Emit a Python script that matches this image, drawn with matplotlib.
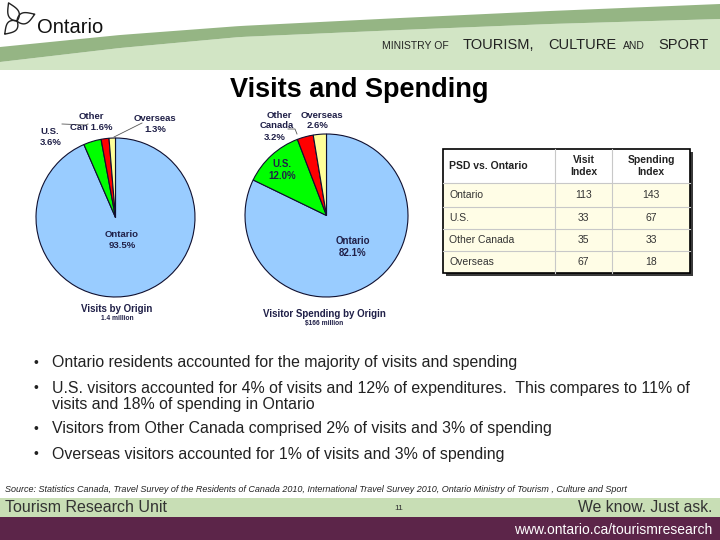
import matplotlib
matplotlib.use("Agg")
import matplotlib.pyplot as plt
from matplotlib.patches import Rectangle, Polygon
import numpy as np

plt.rcParams['font.family'] = ['Liberation Sans', 'DejaVu Sans']

# --- data ---
origins = ['Ontario', 'U.S.', 'Other Canada', 'Overseas']
visit_share = [93.5, 3.6, 1.6, 1.3]
spend_share = [82.1, 12.0, 3.2, 2.6]
pie_colors = ['#99CCFF', '#00FF00', '#FF0000', '#FFFF99']

table_header = ['PSD vs. Ontario', 'Visit\nIndex', 'Spending\nIndex']
table_rows = ['Ontario', 'U.S.', 'Other Canada', 'Overseas']
visit_index = [113, 33, 35, 67]
spend_index = [143, 67, 33, 18]

bullets = [
    'Ontario residents accounted for the majority of visits and spending',
    'U.S. visitors accounted for 4% of visits and 12% of expenditures.  This compares to 11% of\nvisits and 18% of spending in Ontario',
    'Visitors from Other Canada comprised 2% of visits and 3% of spending',
    'Overseas visitors accounted for 1% of visits and 3% of spending',
]
source = ('Source: Statistics Canada, Travel Survey of the Residents of Canada 2010, '
          'International Travel Survey 2010, Ontario Ministry of Tourism , Culture and Sport')

W, H = 720, 540
fig = plt.figure(figsize=(7.2, 5.4), dpi=100)
fig.patch.set_facecolor('white')

# pixel-coordinate background axes
bg = fig.add_axes([0, 0, 1, 1], zorder=0)
bg.set_xlim(0, W)
bg.set_ylim(H, 0)
bg.axis('off')

# header swoosh
xs = np.linspace(0, W, 80)
y_top = np.interp(xs, [0, 120, 240, 400, 550, 720], [47, 35, 26, 18, 11, 4])
y_bot = np.interp(xs, [0, 120, 240, 400, 550, 720], [62, 48, 37, 30, 24, 19])
light = np.vstack([np.c_[xs, y_bot], [[W, 70], [0, 70]]])
bg.add_patch(Polygon(light, closed=True, facecolor='#D2E5C5', edgecolor='none'))
band = np.vstack([np.c_[xs, y_top], np.c_[xs[::-1], y_bot[::-1]]])
bg.add_patch(Polygon(band, closed=True, facecolor='#95B584', edgecolor='none'))

# trillium outline
cx0, cy0 = 17, 21
for ang, L in [(-115, 20), (-21, 19), (133, 18)]:
    t = np.linspace(0, 1, 30)
    w = 6 * np.sin(np.pi * t ** 0.8) * (1 - 0.2 * t)
    a = np.deg2rad(ang)
    ux, uy = np.cos(a), np.sin(a)
    px, py = -uy, ux
    sx = np.r_[cx0 + ux * L * t + px * w, (cx0 + ux * L * t - px * w)[::-1]]
    sy = np.r_[cy0 + uy * L * t + py * w, (cy0 + uy * L * t - py * w)[::-1]]
    bg.plot(sx, sy, color='#222222', lw=1.0)

# footer bands
bg.add_patch(Rectangle((0, 498), W, 19, facecolor='#C8DEB5', edgecolor='none'))
bg.add_patch(Rectangle((0, 517), W, 23, facecolor='#5C2549', edgecolor='none'))

# table
col_x = [443, 555, 612, 690]
row_y = [149, 183, 207, 229, 251, 273]
bg.add_patch(Rectangle((col_x[0] + 3, row_y[0] + 3), col_x[-1] - col_x[0], row_y[-1] - row_y[0],
                       facecolor='#3a3a3a', edgecolor='none'))
bg.add_patch(Rectangle((col_x[0], row_y[0]), col_x[-1] - col_x[0], row_y[1] - row_y[0],
                       facecolor='white', edgecolor='none'))
bg.add_patch(Rectangle((col_x[0], row_y[1]), col_x[-1] - col_x[0], row_y[-1] - row_y[1],
                       facecolor='#FFFDE6', edgecolor='none'))
for yv in row_y[1:-1]:
    bg.plot([col_x[0], col_x[-1]], [yv, yv], color='#C8C8C8', lw=0.8)
for xv in col_x[1:-1]:
    bg.plot([xv, xv], [row_y[0], row_y[-1]], color='#C8C8C8', lw=0.8)
bg.add_patch(Rectangle((col_x[0], row_y[0]), col_x[-1] - col_x[0], row_y[-1] - row_y[0],
                       facecolor='none', edgecolor='black', lw=1.2))


# pies
def add_pie(cx, cy, r, values):
    pad = 1.05
    ax = fig.add_axes([(cx - r * pad) / W, 1 - (cy + r * pad) / H, 2 * r * pad / W, 2 * r * pad / H],
                      zorder=1)
    ax.pie(values, colors=pie_colors, startangle=90, counterclock=False,
           wedgeprops=dict(edgecolor='#101030', linewidth=0.8))
    ax.set_xlim(-pad, pad)
    ax.set_ylim(-pad, pad)
    ax.set_aspect('auto')
    ax.axis('off')
    return ax


add_pie(115.5, 217.5, 79.5, visit_share)
add_pie(326.5, 215.5, 81.5, spend_share)

# text overlay
top = fig.add_axes([0, 0, 1, 1], zorder=3)
top.set_xlim(0, W)
top.set_ylim(H, 0)
top.axis('off')
top.patch.set_alpha(0)

lab = '#202048'
fs_lab = 6.8
# left pie labels
top.plot([62, 86, 88], [124, 125, 124], color='#555555', lw=0.6)
top.plot([142, 114], [123, 137], color='#555555', lw=0.6)
top.text(122, 240, f'{origins[0]}\n{visit_share[0]}%', ha='center', va='center', fontsize=fs_lab,
         fontweight='bold', color=lab, linespacing=1.3)
top.text(40, 137, f'{origins[1]}\n{visit_share[1]}%', ha='left', va='center', fontsize=fs_lab,
         fontweight='bold', color=lab, linespacing=1.3)
top.text(91, 122, f'Other\nCan {visit_share[2]}%', ha='center', va='center', fontsize=fs_lab,
         fontweight='bold', color=lab, linespacing=1.3)
top.text(155, 124, f'{origins[3]}\n{visit_share[3]}%', ha='center', va='center', fontsize=fs_lab,
         fontweight='bold', color=lab, linespacing=1.3)
top.text(117, 309, 'Visits by Origin', ha='center', va='center', fontsize=7,
         fontweight='bold', color=lab)
top.text(117, 318, '1.4 million', ha='center', va='center', fontsize=4.8,
         fontweight='bold', color=lab)

# right pie labels
top.plot([288, 295, 297], [129, 129, 134], color='#555555', lw=0.6)
top.text(279, 115, 'Other', ha='center', va='center', fontsize=fs_lab, fontweight='bold', color=lab)
top.text(322, 115, origins[3], ha='center', va='center', fontsize=fs_lab, fontweight='bold', color=lab)
top.text(277, 126, 'Canada', ha='center', va='center', fontsize=fs_lab, fontweight='bold', color=lab)
top.text(318, 126, f'{spend_share[3]}%', ha='center', va='center', fontsize=fs_lab, fontweight='bold', color=lab)
top.text(275, 137, f'{spend_share[2]}%', ha='center', va='center', fontsize=fs_lab, fontweight='bold', color=lab)
top.text(282, 170, f'{origins[1]}\n{spend_share[1]:.1f}%', ha='center', va='center', fontsize=7,
         fontweight='bold', color=lab, linespacing=1.3)
top.text(353, 247, f'{origins[0]}\n{spend_share[0]}%', ha='center', va='center', fontsize=7,
         fontweight='bold', color=lab, linespacing=1.3)
top.text(324, 314, 'Visitor Spending by Origin', ha='center', va='center', fontsize=7,
         fontweight='bold', color=lab)
top.text(324, 323, '$166 million', ha='center', va='center', fontsize=4.8,
         fontweight='bold', color=lab)

# title
top.text(359, 90, 'Visits and Spending', ha='center', va='center', fontsize=19.5,
         fontweight='bold', color='black')

# table text
top.text(col_x[0] + 6, (row_y[0] + row_y[1]) / 2, table_header[0], ha='left', va='center',
         fontsize=7.5, fontweight='bold', color='#222222')
for j in (1, 2):
    top.text((col_x[j] + col_x[j + 1]) / 2, (row_y[0] + row_y[1]) / 2, table_header[j],
             ha='center', va='center', fontsize=7.5, fontweight='bold', color='#222222',
             linespacing=1.15)
for i, name in enumerate(table_rows):
    yc = (row_y[i + 1] + row_y[i + 2]) / 2
    top.text(col_x[0] + 6, yc, name, ha='left', va='center', fontsize=7.5, color='#333333')
    top.text((col_x[1] + col_x[2]) / 2, yc, str(visit_index[i]), ha='center', va='center',
             fontsize=7.5, color='#333333')
    top.text((col_x[2] + col_x[3]) / 2, yc, str(spend_index[i]), ha='center', va='center',
             fontsize=7.5, color='#333333')

# bullets
for yb, txt in zip([363, 388, 429, 454], bullets):
    top.text(33, yb, '\u2022', ha='left', va='center', fontsize=10, color='#222222')
    for k, line in enumerate(txt.split('\n')):
        top.text(52, yb + 17 * k, line, ha='left', va='center', fontsize=11.4, color='#222222')

# source
top.text(5, 489, source, ha='left', va='center', fontsize=6.5, style='italic', color='#222222')

# header text
top.text(37, 33, 'Ontario', ha='left', va='baseline', fontsize=14.5, color='#111111')
for xp, word, fs in [(382, 'MINISTRY OF', 7.5), (463, 'TOURISM,', 10.5), (548, 'CULTURE', 10.5),
                     (623, 'AND', 7.5), (658, 'SPORT', 10.5)]:
    top.text(xp, 49, word, ha='left', va='baseline', fontsize=fs, color='#222222')

# footer text
top.text(5, 508, 'Tourism Research Unit', ha='left', va='center', fontsize=11.5, color='#333333')
top.text(399, 508, '11', ha='center', va='center', fontsize=6, color='#333333')
top.text(712, 508, 'We know. Just ask.', ha='right', va='center', fontsize=11.3, color='#333333')
top.text(712, 530, 'www.ontario.ca/tourismresearch', ha='right', va='center', fontsize=10,
         color='white')

fig.savefig('out.png', dpi=100)
